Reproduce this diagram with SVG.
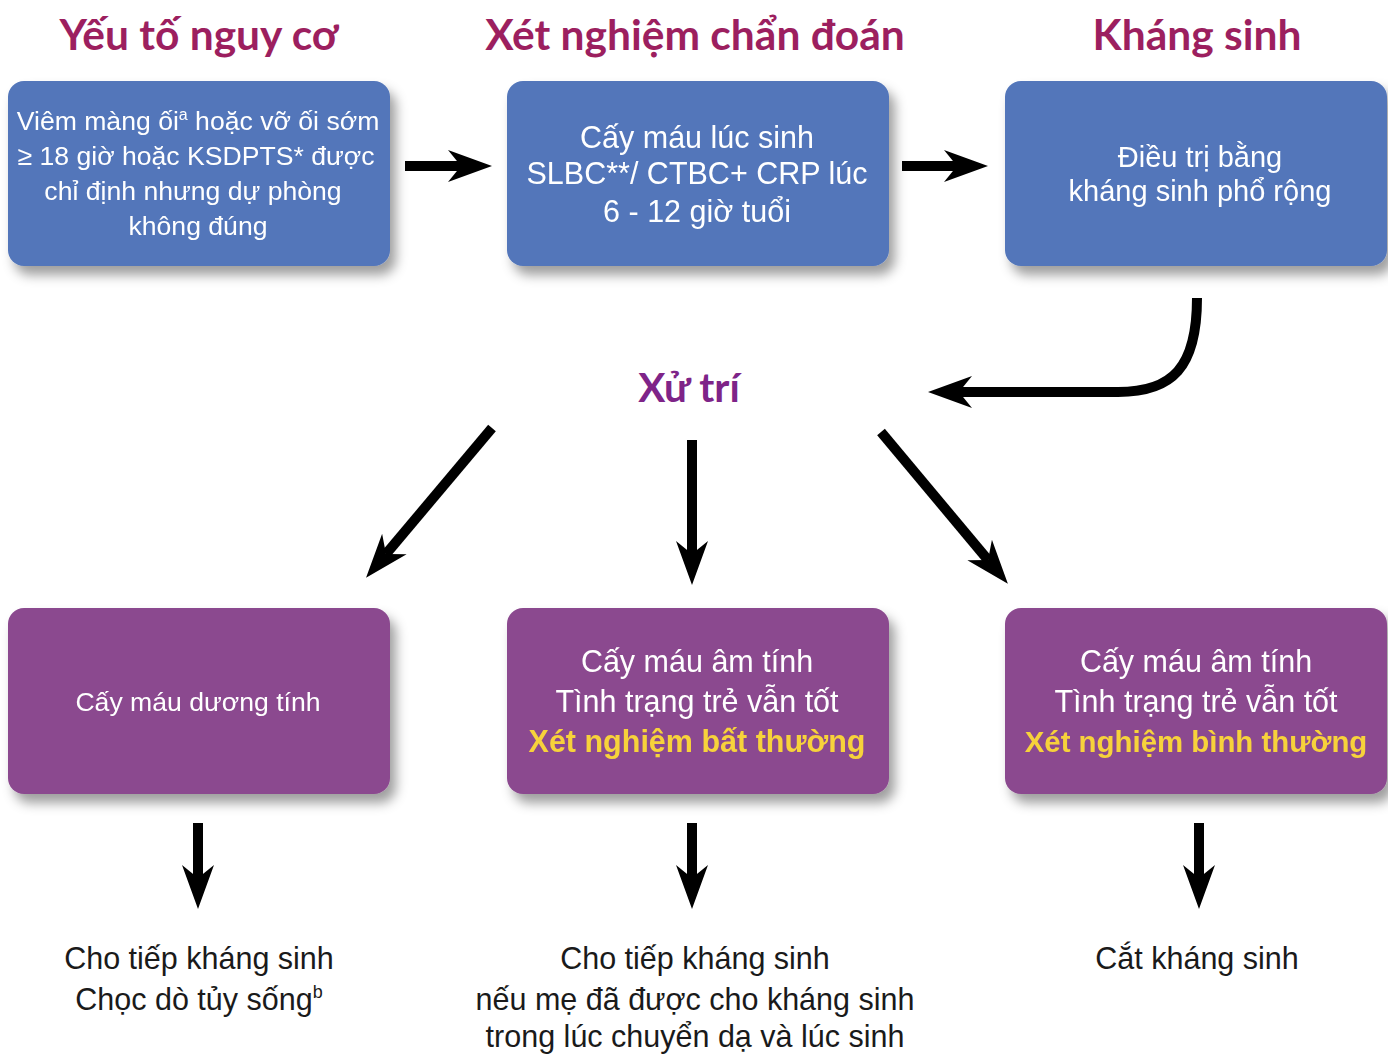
<svg xmlns="http://www.w3.org/2000/svg" width="1388" height="1055" viewBox="0 0 1388 1055">
<style>
.hdr{font-family:Lato,"Noto Sans","Liberation Sans",sans-serif;font-weight:bold;font-size:42.5px;fill:#9C1F5F;text-anchor:middle}
.xt{font-family:Lato,"Noto Sans","Liberation Sans",sans-serif;font-weight:bold;font-size:40.5px;fill:#7E2488;text-anchor:middle}
.blue{fill:#5276BA}
.purp{fill:#8B4A8F}
.wt{font-family:"Liberation Sans",Arial,sans-serif;fill:#FFFFFF;text-anchor:middle}
.yl{font-family:"Liberation Sans",Arial,sans-serif;font-weight:bold;fill:#F7D23A;text-anchor:middle}
.bt{font-family:"Liberation Sans",Arial,sans-serif;fill:#1A1A1A;text-anchor:middle;font-size:30.5px}
.arr{fill:none;stroke:#000;stroke-width:10}
</style>
<defs>
<filter id="sh" x="-10%" y="-10%" width="130%" height="140%">
<feDropShadow dx="6" dy="9" stdDeviation="6" flood-color="#000" flood-opacity="0.38"/>
</filter>
<marker id="ah" markerUnits="userSpaceOnUse" viewBox="0 -17 46 34" refX="13" refY="0" markerWidth="46" markerHeight="34" orient="auto">
<path d="M0,-16 L44,0 L0,16 L13,0 Z" fill="#000"/>
</marker>
</defs>
<rect width="1388" height="1055" fill="#FFFFFF"/>

<g id="headers">
<text class="hdr" x="199" y="50">Yếu tố nguy cơ</text>
<text class="hdr" x="695" y="50">Xét nghiệm chẩn đoán</text>
<text class="hdr" x="1197" y="50">Kháng sinh</text>
</g>

<g id="node-risk" filter="url(#sh)">
<rect class="blue" x="8" y="81" width="382" height="185" rx="16"/>
<text class="wt" font-size="26.6"><tspan x="198" y="130">Viêm màng ối<tspan font-size="16" dy="-10">a</tspan><tspan dy="10"> hoặc vỡ ối sớm</tspan></tspan><tspan x="196" y="165">≥ 18 giờ hoặc KSDPTS* được</tspan><tspan x="193" y="200">chỉ định nhưng dự phòng</tspan><tspan x="198" y="235">không đúng</tspan></text>
</g>

<g id="node-test" filter="url(#sh)">
<rect class="blue" x="507" y="81" width="382" height="185" rx="16"/>
<text class="wt" font-size="30.5"><tspan x="697" y="148">Cấy máu lúc sinh</tspan><tspan x="697" y="184">SLBC**/ CTBC+ CRP lúc</tspan><tspan x="697" y="222">6 - 12 giờ tuổi</tspan></text>
</g>

<g id="node-abx" filter="url(#sh)">
<rect class="blue" x="1005" y="81" width="382" height="185" rx="16"/>
<text class="wt" font-size="29"><tspan x="1200" y="167">Điều trị bằng</tspan><tspan x="1200" y="201">kháng sinh phổ rộng</tspan></text>
</g>

<g id="node-xutri">
<text class="xt" x="689" y="402">Xử trí</text>
</g>

<g id="node-pos" filter="url(#sh)">
<rect class="purp" x="8" y="608" width="382" height="186" rx="16"/>
<text class="wt" font-size="26.6" x="198" y="711">Cấy máu dương tính</text>
</g>

<g id="node-abn" filter="url(#sh)">
<rect class="purp" x="507" y="608" width="382" height="186" rx="16"/>
<text class="wt" font-size="30.5"><tspan x="697" y="672">Cấy máu âm tính</tspan><tspan x="697" y="712">Tình trạng trẻ vẫn tốt</tspan></text>
<text class="yl" font-size="30.5" x="697" y="752">Xét nghiệm bất thường</text>
</g>

<g id="node-norm" filter="url(#sh)">
<rect class="purp" x="1005" y="608" width="382" height="186" rx="16"/>
<text class="wt" font-size="30.5"><tspan x="1196" y="672">Cấy máu âm tính</tspan><tspan x="1196" y="712">Tình trạng trẻ vẫn tốt</tspan></text>
<text class="yl" font-size="29.4" x="1196" y="752">Xét nghiệm bình thường</text>
</g>

<g id="out-1">
<text class="bt"><tspan x="199" y="969">Cho tiếp kháng sinh</tspan><tspan x="199" y="1010">Chọc dò tủy sống<tspan font-size="18" dy="-12">b</tspan></tspan></text>
</g>
<g id="out-2">
<text class="bt"><tspan x="695" y="969">Cho tiếp kháng sinh</tspan><tspan x="695" y="1010">nếu mẹ đã được cho kháng sinh</tspan><tspan x="695" y="1047">trong lúc chuyển dạ và lúc sinh</tspan></text>
</g>
<g id="out-3">
<text class="bt" x="1197" y="969">Cắt kháng sinh</text>
</g>

<g id="connectors">
<line class="arr" x1="405" y1="166" x2="461" y2="166" marker-end="url(#ah)"/>
<line class="arr" x1="902" y1="166" x2="957" y2="166" marker-end="url(#ah)"/>
<path class="arr" d="M1197,298 C1197,368 1172,392 1118,392 L959,392" marker-end="url(#ah)"/>
<line class="arr" x1="492" y1="428" x2="386" y2="554" marker-end="url(#ah)"/>
<line class="arr" x1="692" y1="440" x2="692" y2="554" marker-end="url(#ah)"/>
<line class="arr" x1="881" y1="432" x2="988" y2="560" marker-end="url(#ah)"/>
<line class="arr" x1="198" y1="823" x2="198" y2="878" marker-end="url(#ah)"/>
<line class="arr" x1="692" y1="823" x2="692" y2="878" marker-end="url(#ah)"/>
<line class="arr" x1="1199" y1="823" x2="1199" y2="878" marker-end="url(#ah)"/>
</g>
</svg>
